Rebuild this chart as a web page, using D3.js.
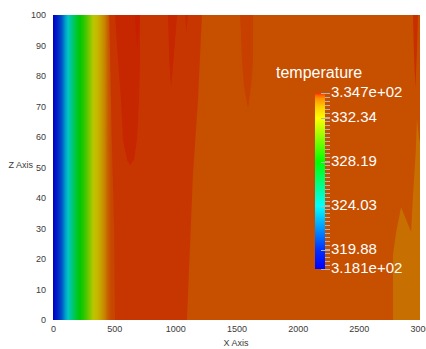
<!DOCTYPE html>
<html>
<head>
<meta charset="utf-8">
<script src="https://cdn.jsdelivr.net/npm/d3@7"></script>
<style>
  body { margin: 0; background: #fff; }
  svg { display: block; font-family: "Liberation Sans", Arial, sans-serif; }
</style>
</head>
<body>
<svg id="chart" width="426" height="349"></svg>
<script>
// colour lookup table (temperature -> colour)
const lutT = [318.1, 319.88, 324.03, 328.19, 332.34, 333.4, 334.2, 334.45, 334.7];
const lutC = ['#0000ff', '#0030ff', '#00ffff', '#00ff00', '#ffff00', '#ffcc00', '#ff8f00', '#ff6600', '#ff2800'];

// temperature profile across the heated wall (x, K)
const gradX = [0, 41, 74, 98, 123, 155, 188, 221, 253, 286, 327, 360, 392, 425, 450, 482, 531];
const gradT = [318.1, 319.9, 321.2, 322.8, 324.0, 325.5, 327.0, 328.2, 329.1, 330.3, 332.0, 332.7, 333.4, 333.9, 334.35, 334.5, 334.5];

const backgroundTemp = 334.45;

// plume regions, [x, z] outlines
const warmZone = [[507, 0], [500, 30], [480, 60], [470, 80], [460, 100], [1218, 100], [1185, 72], [1144, 47.5], [1095, 0]];
const hotBlobWest = [[507, 100], [531, 85], [556, 72], [572, 59], [605, 52.5], [629, 50.8], [662, 52.5], [687, 59], [703, 72], [711, 85], [711, 100]];
const hotSliver = [[670, 100], [680, 93], [690, 89], [700, 93], [711, 100]];
const hotBlobMid = [[940, 100], [950, 85], [965, 76], [985, 85], [1014, 100]];
const hotStreak = [[1079, 100], [1090, 94], [1104, 100]];
const streak1600 = [[1529, 100], [1545, 85], [1560, 77], [1594, 69.5], [1620, 77], [1635, 85], [1635, 100]];
const streakEast = [[2943, 100], [2950, 88], [2962, 76], [2975, 88], [2984, 100]];
const coolCorner = [[2779, 0], [2779, 21.3], [2804, 28.5], [2845, 37], [2927, 28.9], [2943, 41], [2965, 55], [2975, 66], [2990, 60], [3000, 58], [3000, 0]];

const zoneTemps = {
  warmZone: 334.58, hotBlobWest: 334.66, hotSliver: 334.7, hotBlobMid: 334.66,
  hotStreak: 334.64, streak1600: 334.53, streakEast: 334.62, coolCorner: 334.2
};

const xTicks = [0, 500, 1000, 1500, 2000, 2500, 3000];
const zTicks = [0, 10, 20, 30, 40, 50, 60, 70, 80, 90, 100];
const barTickValues = [334.7, 332.34, 328.19, 324.03, 319.88, 318.1];
const barTickLabels = ['3.347e+02', '332.34', '328.19', '324.03', '319.88', '3.181e+02'];

const color = d3.scaleLinear().domain(lutT).range(lutC).clamp(true);

const plot = { left: 53, right: 420, top: 15, bottom: 320 };
const x = d3.scaleLinear().domain([0, 3000]).range([plot.left, plot.right]);
const z = d3.scaleLinear().domain([0, 100]).range([plot.bottom, plot.top]);

const svg = d3.select('#chart');
const defs = svg.append('defs');

defs.append('clipPath').attr('id', 'plot-clip')
  .append('rect')
  .attr('x', plot.left).attr('y', plot.top)
  .attr('width', plot.right - plot.left).attr('height', plot.bottom - plot.top);

const g = svg.append('g').attr('clip-path', 'url(#plot-clip)');

// base field
g.append('rect')
  .attr('x', x(0)).attr('y', z(100))
  .attr('width', x(3000) - x(0)).attr('height', z(0) - z(100))
  .attr('fill', color(backgroundTemp));

// wall gradient
const x0 = x(gradX[0]), x1 = x(gradX[gradX.length - 1]);
const wallGrad = defs.append('linearGradient')
  .attr('id', 'wall-grad')
  .attr('gradientUnits', 'userSpaceOnUse')
  .attr('x1', x0).attr('x2', x1).attr('y1', 0).attr('y2', 0);
wallGrad.selectAll('stop')
  .data(gradX)
  .enter().append('stop')
  .attr('offset', d => (x(d) - x0) / (x1 - x0))
  .attr('stop-color', (d, i) => color(gradT[i]));

g.append('rect')
  .attr('x', x0).attr('y', z(100))
  .attr('width', x1 - x0).attr('height', z(0) - z(100))
  .attr('fill', 'url(#wall-grad)');

// plume regions
const zones = [
  ['warmZone', warmZone], ['hotBlobWest', hotBlobWest], ['hotSliver', hotSliver],
  ['hotBlobMid', hotBlobMid], ['hotStreak', hotStreak], ['streak1600', streak1600],
  ['streakEast', streakEast], ['coolCorner', coolCorner]
];
const outline = d3.line().x(d => x(d[0])).y(d => z(d[1]));

g.selectAll('path.zone')
  .data(zones)
  .enter().append('path')
  .attr('class', 'zone')
  .attr('d', d => outline(d[1]) + 'Z')
  .attr('fill', d => color(zoneTemps[d[0]]));

// surface lighting
g.append('rect')
  .attr('x', plot.left).attr('y', plot.top)
  .attr('width', plot.right - plot.left).attr('height', plot.bottom - plot.top)
  .attr('fill', '#000').attr('opacity', 0.22);

// axes
const xAxis = svg.append('g')
  .attr('transform', `translate(0,${plot.bottom})`)
  .call(d3.axisBottom(x).tickValues(xTicks).tickFormat(d3.format('d')).tickSize(0).tickPadding(6));
const zAxis = svg.append('g')
  .attr('transform', `translate(${plot.left},0)`)
  .call(d3.axisLeft(z).tickValues(zTicks).tickFormat(d3.format('d')).tickSize(0).tickPadding(7));
[xAxis, zAxis].forEach(a => {
  a.select('.domain').remove();
  a.selectAll('text').attr('fill', '#3a3a3a').attr('font-size', 9)
    .attr('font-family', '"Liberation Sans", Arial, sans-serif');
});

svg.append('text')
  .attr('x', 236).attr('y', 346)
  .attr('text-anchor', 'middle')
  .attr('font-size', 9).attr('fill', '#3a3a3a')
  .text('X Axis');
svg.append('text')
  .attr('x', 33).attr('y', 168)
  .attr('text-anchor', 'end')
  .attr('font-size', 9).attr('fill', '#3a3a3a')
  .text('Z Axis');

// colour legend
const bar = d3.scaleLinear().domain([318.1, 334.7]).range([269, 93]);
const barGrad = defs.append('linearGradient')
  .attr('id', 'bar-grad')
  .attr('gradientUnits', 'userSpaceOnUse')
  .attr('x1', 0).attr('x2', 0).attr('y1', bar(318.1)).attr('y2', bar(334.7));
barGrad.selectAll('stop')
  .data(lutT)
  .enter().append('stop')
  .attr('offset', d => (d - 318.1) / (334.7 - 318.1))
  .attr('stop-color', d => color(d));

svg.append('rect')
  .attr('x', 315).attr('y', bar(334.7))
  .attr('width', 10).attr('height', bar(318.1) - bar(334.7))
  .attr('fill', 'url(#bar-grad)');

const minorCount = 44;
const minorTicks = d3.range(minorCount + 1).map(i => 318.1 + i * (334.7 - 318.1) / minorCount);
svg.selectAll('line.minor')
  .data(minorTicks)
  .enter().append('line')
  .attr('class', 'minor')
  .attr('x1', 325).attr('x2', 330)
  .attr('y1', d => Math.round(bar(d)) + 0.5).attr('y2', d => Math.round(bar(d)) + 0.5)
  .attr('stroke', '#b4b4b4').attr('stroke-width', 1);

svg.selectAll('line.major')
  .data(barTickValues)
  .enter().append('line')
  .attr('class', 'major')
  .attr('x1', 321).attr('x2', 330)
  .attr('y1', d => Math.round(bar(d)) + 0.5).attr('y2', d => Math.round(bar(d)) + 0.5)
  .attr('stroke', '#b4b4b4').attr('stroke-width', 1);

svg.selectAll('text.barlabel')
  .data(barTickValues)
  .enter().append('text')
  .attr('class', 'barlabel')
  .attr('x', 331)
  .attr('y', d => bar(d) - 1)
  .attr('dy', '0.35em')
  .attr('font-size', 15).attr('fill', '#fff')
  .text((d, i) => barTickLabels[i]);

svg.append('text')
  .attr('x', 276).attr('y', 78)
  .attr('font-size', 16).attr('fill', '#fff')
  .text('temperature');
</script>
</body>
</html>
